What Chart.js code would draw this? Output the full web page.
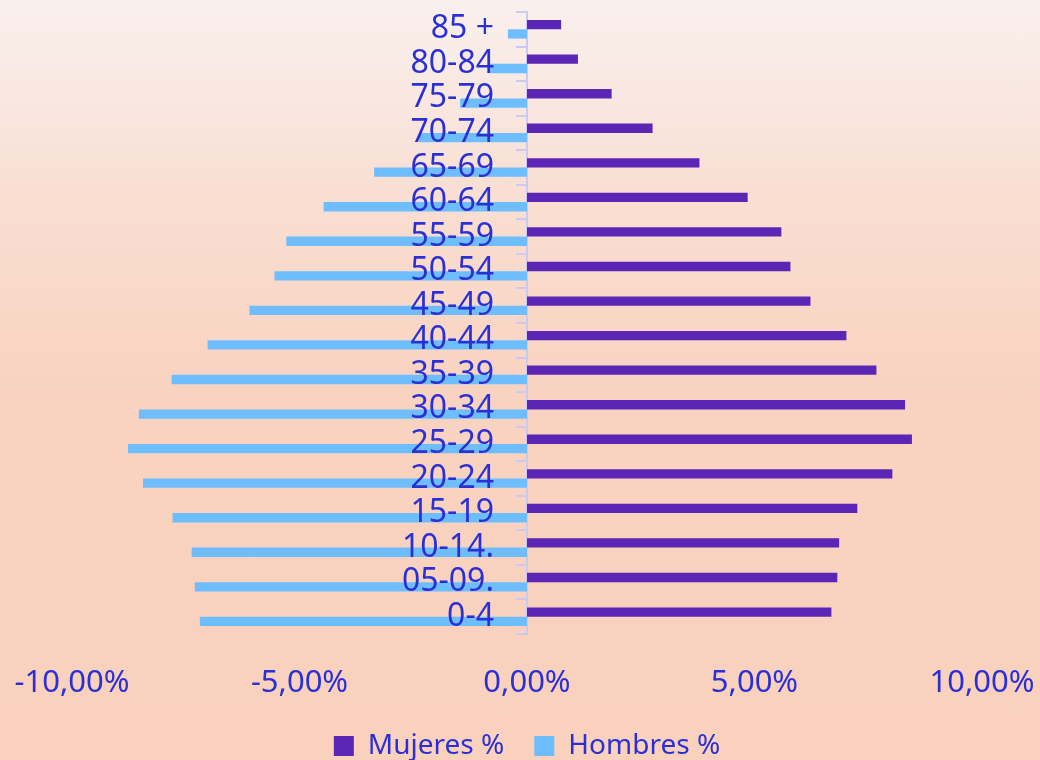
<!DOCTYPE html>
<html>
<head>
<meta charset="utf-8">
<script src="https://cdn.jsdelivr.net/npm/chart.js@4.4.1/dist/chart.umd.min.js"></script>
<style>
  html, body { margin: 0; padding: 0; }
  body {
    width: 1040px;
    height: 760px;
    background: linear-gradient(180deg, #f9f0ee 0%, #f9dfd3 25%, #f9d3c1 50%, #f9d1bd 100%);
    overflow: hidden;
  }
  #wrap { width: 1040px; height: 760px; position: relative; }
</style>
</head>
<body>
<div id="wrap"><canvas id="pyramid"></canvas></div>
<script>
const ageGroups = ['85 +', '80-84', '75-79', '70-74', '65-69', '60-64', '55-59', '50-54', '45-49',
                   '40-44', '35-39', '30-34', '25-29', '20-24', '15-19', '10-14.', '05-09.', '0-4'];
const mujeres = [0.75, 1.12, 1.86, 2.76, 3.79, 4.85, 5.59, 5.79, 6.23,
                 7.02, 7.68, 8.31, 8.46, 8.03, 7.26, 6.86, 6.82, 6.69];
const hombres = [-0.42, -0.81, -1.47, -2.37, -3.36, -4.47, -5.29, -5.55, -6.10,
                 -7.02, -7.81, -8.53, -8.77, -8.44, -7.79, -7.37, -7.30, -7.19];
const xTicks = [-10, -5, 0, 5, 10];

const textColor = '#2b30d4';
const axisColor = '#c9c9f2';
const font = 'Noto Sans';

const ctx = document.getElementById('pyramid').getContext('2d');
new Chart(ctx, {
    type: 'bar',
    data: {
        labels: ageGroups,
        datasets: [{
            label: 'Mujeres %',
            data: mujeres,
            backgroundColor: '#5b25b5',
            borderWidth: 0,
            categoryPercentage: 0.54,
            barPercentage: 1.0
        }, {
            label: 'Hombres %',
            data: hombres,
            backgroundColor: '#6ebeff',
            borderWidth: 0,
            categoryPercentage: 0.54,
            barPercentage: 1.0
        }]
    },
    options: {
        indexAxis: 'y',
        responsive: true,
        maintainAspectRatio: false,
        animation: false,
        layout: {
            padding: { top: 12, left: 72, right: 58, bottom: -10 }
        },
        scales: {
            x: {
                min: -10,
                max: 10,
                afterBuildTicks: function (scale) {
                    scale.ticks = xTicks.map(v => ({ value: v }));
                },
                // label overhang is covered by the layout padding, fixed axis height
                afterFit: function (scale) {
                    scale.paddingLeft = 0;
                    scale.paddingRight = 0;
                    scale.height = 68;
                },
                grid: { display: false, drawTicks: false },
                border: { display: false },
                ticks: {
                    color: textColor,
                    font: { family: font, size: 31, lineHeight: 0.7 },
                    padding: 38,
                    maxRotation: 0,
                    callback: function (value) {
                        return value.toFixed(2).replace('.', ',') + '%';
                    }
                }
            },
            y: {
                position: 'center',
                afterFit: function (scale) {
                    scale.paddingTop = 0;
                    scale.paddingBottom = 0;
                },
                grid: {
                    offset: true,
                    drawOnChartArea: false,
                    drawTicks: true,
                    tickLength: 10,
                    color: axisColor,
                    lineWidth: 2
                },
                border: { display: true, color: axisColor, width: 2 },
                ticks: {
                    z: 1,
                    color: textColor,
                    font: { family: font, size: 32 },
                    padding: 23,
                    autoSkip: false
                }
            }
        },
        plugins: {
            legend: {
                position: 'bottom',
                labels: {
                    color: textColor,
                    font: { family: font, size: 28 },
                    boxWidth: 20,
                    boxHeight: 20,
                    padding: 30
                }
            },
            tooltip: { enabled: false }
        }
    }
});
</script>
</body>
</html>
